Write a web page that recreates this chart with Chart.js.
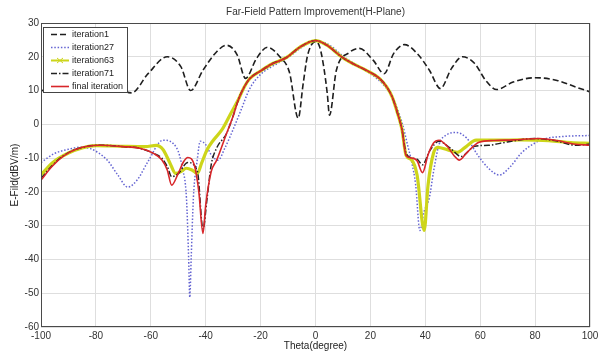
<!DOCTYPE html>
<html><head><meta charset="utf-8">
<script src="https://cdn.jsdelivr.net/npm/chart.js@4.4.1/dist/chart.umd.min.js"></script>
<style>html,body{margin:0;padding:0;background:#fff}#wrap{width:602px;height:356px}</style>
</head><body><div id="wrap"><canvas id="c" width="602" height="356"></canvas></div>
<script>
const titleText = "Far-Field Pattern Improvement(H-Plane)";
const xTitle = "Theta(degree)";
const yTitle = "E-Fild(dBV/m)";
const xTickValues = [-100, -80, -60, -40, -20, 0, 20, 40, 60, 80, 100];
const yTickValues = [-60, -50, -40, -30, -20, -10, 0, 10, 20, 30];
const seriesNames = ["iteration1", "iteration27", "iteration63", "iteration71", "final iteration"];

const theta1 = [-100,-92,-82,-74,-67,-61,-54,-49,-45.5,-41,-36,-32.4,-28.5,-25.5,-21.5,-17.5,-13,-9.5,-6.3,-4.5,-3,-1.5,0,1.5,3,4.3,5.1,7.6,12.4,16,21,25,28.5,32.4,37,41.5,45.5,49.5,53.5,58,62,66,72,80,88,95,100];
const ef1    = [9.8,12.5,13.8,12,9.3,15,20,17,10,16,21.5,23.4,20.5,13.6,19.5,22.8,20,15.4,1.8,12,20,23.5,24.5,23,17,9,2.7,16,21.3,22.5,19,15,21,23.6,21,16,10.6,16.5,20,18,13,10.3,12.5,13.8,13,11,9.6];

const theta27 = [-100,-95,-90,-86,-82,-76,-72,-68.4,-65,-61,-55.6,-50.5,-48.5,-47,-46.2,-45.8,-45.3,-44.5,-43,-42,-40,-38,-35.5,-33,-30,-27,-24,-20,-15,-10,-5,0,5,10,15,20,25,28,31.6,33.5,35,36.5,38,39.5,41.5,43,45,48,51,55,59,63,67,71,75,80,84,90,100];
const ef27    = [-11.3,-8.6,-7.4,-6.8,-7.2,-10.5,-15,-18.6,-16.5,-11,-4.7,-7.1,-13,-22,-40,-51.2,-40,-22,-10,-5,-6,-9,-10.6,-7,-1.5,4.5,10.5,14.8,17.5,19.8,22.8,24.8,23.5,20.2,17.5,15,11.5,8,0.3,-6,-11,-18,-31.4,-26,-21.6,-14,-6,-3,-2.4,-4,-9,-13,-15,-12.5,-8.5,-5.5,-4.2,-3.6,-3.3];

const theta63 = [-100,-96,-90,-85,-80,-70,-62,-58,-55.5,-53,-51,-49,-47,-45,-43,-41.5,-39.5,-37.5,-34,-31,-28,-26,-24,-20,-15.6,-10.5,-5.8,0,4,9.8,14,18.5,23.3,26,28,30,31.5,33,35,37,39.6,41,43,44.5,48,51.6,55,58.5,66,75,85,93,100];
const ef63    = [-15,-11.5,-8.5,-7,-6.3,-6.5,-6.6,-6.2,-7.5,-11.5,-14.5,-14,-13,-13.5,-14.5,-11.5,-7.5,-5,-1.5,3,7.5,11,13.5,15.8,18,19.8,22.8,24.8,23.5,19.8,17.8,16,13.6,11,8,3,-1.5,-9.2,-10.5,-15,-31.4,-18,-8.5,-6.8,-7.5,-8.3,-6.5,-4.7,-4.7,-4.6,-4.8,-5.4,-5.6];

const theta71 = [-100,-96,-92,-87,-78.5,-70,-64,-59,-56,-54,-52.4,-50,-46.5,-43,-41,-39.5,-38,-36,-32.4,-30,-28,-26,-24,-20,-15.6,-10.5,-5.8,0,4,9.8,14,18.5,23.3,26,28,30,31.5,33,35.3,37,39,41.5,45,49,53,58,63,70,80,87,95,100];
const ef71    = [-16,-12.3,-9.4,-7.3,-6.2,-6.6,-7.1,-8.6,-10,-12.5,-15.5,-14.6,-11.3,-14,-31,-22,-12,-7,-2.7,2.5,7.5,11,13.5,15.8,18,19.8,22.8,24.8,23.5,19.8,17.8,16,13.6,11,8,3,-1.5,-8.6,-10,-10.3,-12,-8,-5,-7,-9.5,-6.5,-6.2,-5.2,-4.2,-4.8,-6.2,-5.8];

const thetaF = [-100,-96,-92,-87,-78.5,-70,-64,-59,-56,-54,-52.4,-50,-48,-46.5,-44,-42.5,-41,-40,-38,-36,-32.4,-30,-28,-26,-24,-20,-15.6,-10.5,-5.8,0,4,9.8,14,18.5,23.3,26,28,30,31.5,33,35.3,37,39,41,43,45,48,50.5,52.4,55,59.6,65,72,81.5,88,94,100];
const efF    = [-16.5,-12.5,-9.5,-7.3,-6.2,-6.6,-7.1,-8.6,-10.5,-13.5,-18,-14.5,-11,-9.8,-12.5,-20,-32.3,-24,-14,-10.6,-2.7,2.5,7.5,11,13.5,15.8,18,19.8,22.8,24.8,23.5,19.8,17.8,16,13.6,11,8,3,-1.5,-9.2,-10,-10.8,-14.3,-9,-5.5,-4.7,-6.5,-9.3,-10.6,-8.5,-5.3,-4.8,-4.6,-4.2,-4.8,-5.8,-6.2];

const pts = (t, v) => t.map((x, i) => ({x: x, y: v[i]}));
const FONT = '"Liberation Sans", Arial, sans-serif';

const decor = {
  id: 'decor',
  afterDraw(chart) {
    const ctx = chart.ctx, ca = chart.chartArea;
    ctx.save();
    ctx.setLineDash([]);
    ctx.strokeStyle = '#4a4a4a'; ctx.lineWidth = 1;
    ctx.strokeRect(ca.left + 0.5, ca.top + 0.5, ca.right - ca.left - 1, ca.bottom - ca.top - 1);
    ctx.fillStyle = '#333';
    ctx.font = '10px ' + FONT;
    ctx.textAlign = 'center'; ctx.textBaseline = 'middle';
    ctx.fillText(titleText, (ca.left + ca.right) / 2, 12);
    const bx = ca.left + 2, by = ca.top + 4, bw = 84, bh = 65;
    ctx.fillStyle = '#fff'; ctx.fillRect(bx, by, bw, bh);
    ctx.strokeStyle = '#444'; ctx.strokeRect(bx + 0.5, by + 0.5, bw, bh);
    ctx.font = '9px ' + FONT;
    chart.data.datasets.forEach((ds, i) => {
      const y = by + 7.5 + i * 13;
      ctx.strokeStyle = ds.borderColor; ctx.lineWidth = Math.min(ds.borderWidth, 2);
      ctx.setLineDash(ds.borderDash || []);
      ctx.beginPath(); ctx.moveTo(bx + 8, y); ctx.lineTo(bx + 26, y); ctx.stroke();
      ctx.setLineDash([]);
      if (ds.label === 'iteration63') {
        ctx.lineWidth = 1;
        ctx.beginPath(); ctx.moveTo(bx + 14, y - 2.5); ctx.lineTo(bx + 20, y + 2.5);
        ctx.moveTo(bx + 14, y + 2.5); ctx.lineTo(bx + 20, y - 2.5); ctx.stroke();
      }
      ctx.fillStyle = '#222'; ctx.textAlign = 'left';
      ctx.fillText(ds.label, bx + 29, y);
    });
    ctx.restore();
  }
};

const common = {pointRadius: 0, fill: false, cubicInterpolationMode: 'monotone'};
new Chart(document.getElementById('c'), {
  type: 'line',
  data: {
    datasets: [
      Object.assign({label: seriesNames[0], data: pts(theta1, ef1), borderColor: '#1e1e1e', borderWidth: 1.6, borderDash: [6, 3], order: 4}, common),
      Object.assign({label: seriesNames[1], data: pts(theta27, ef27), borderColor: '#6464d2', borderWidth: 1.5, borderDash: [1.5, 1.8], order: 3}, common),
      Object.assign({label: seriesNames[2], data: pts(theta63, ef63), borderColor: '#cdd51a', borderWidth: 3.2, order: 2}, common),
      Object.assign({label: seriesNames[3], data: pts(theta71, ef71), borderColor: '#222', borderWidth: 1.5, borderDash: [6, 2, 1.5, 2], order: 1}, common),
      Object.assign({label: seriesNames[4], data: pts(thetaF, efF), borderColor: '#d8262a', borderWidth: 1.6, order: 0}, common)
    ]
  },
  options: {
    responsive: false, animation: false, devicePixelRatio: 1,
    layout: {padding: {top: 23, right: 12, left: 0, bottom: 0}},
    plugins: {legend: {display: false}, title: {display: false}, tooltip: {enabled: false}},
    scales: {
      x: {
        type: 'linear', min: -100, max: 100,
        afterFit: s => { s.height = 29; },
        afterBuildTicks: s => { s.ticks = xTickValues.map(v => ({value: v})); },
        ticks: {color: '#333', font: {size: 10, family: FONT}, padding: 3, maxRotation: 0, autoSkip: false},
        grid: {color: '#dedede', drawTicks: false, lineWidth: 1},
        border: {display: false},
        title: {display: true, text: xTitle, color: '#222', font: {size: 10, family: FONT}, padding: {top: 0, bottom: 4}}
      },
      y: {
        type: 'linear', min: -60, max: 30,
        afterFit: s => { s.width = 41; },
        afterBuildTicks: s => { s.ticks = yTickValues.map(v => ({value: v})); },
        ticks: {color: '#333', font: {size: 10, family: FONT}, padding: 2, autoSkip: false},
        grid: {color: '#dedede', drawTicks: false, lineWidth: 1},
        border: {display: false},
        title: {display: true, text: yTitle, color: '#222', font: {size: 10, family: FONT}, padding: {top: 9, bottom: 0}}
      }
    }
  },
  plugins: [decor]
});
</script></body></html>
